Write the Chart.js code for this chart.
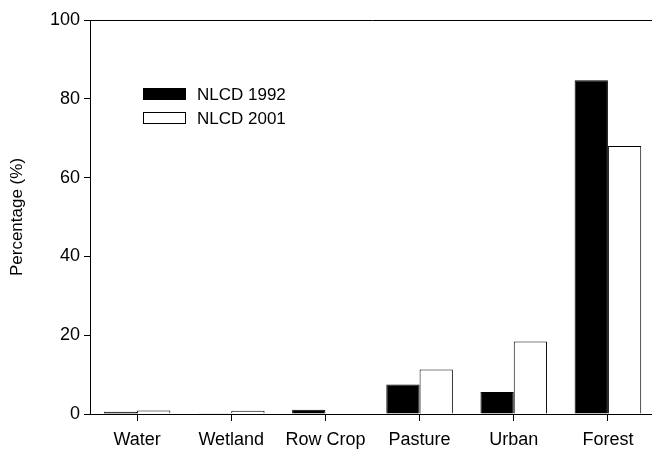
<!DOCTYPE html>
<html>
<head>
<meta charset="utf-8">
<script src="https://cdn.jsdelivr.net/npm/chart.js@4"></script>
<style>
  html, body { margin: 0; padding: 0; background: #fff; overflow: hidden; }
  #wrap { width: 660px; height: 450px; }
</style>
</head>
<body>
<div id="wrap"><canvas id="myChart" width="660" height="450"></canvas></div>
<script>
// categories and values
const categories = ["Water", "Wetland", "Row Crop", "Pasture", "Urban", "Forest"];
const nlcd1992 = [0.6, 0.2, 1.1, 7.5, 5.6, 84.7];
const nlcd2001 = [0.9, 0.8, 0, 11.3, 18.4, 68.0];
const yTicks = [0, 20, 40, 60, 80, 100];

const fontName = "'Liberation Sans', Arial, sans-serif";

// legend drawn inside the plot, like the original
const legendInside = {
  id: 'legendInside',
  afterDraw(chart) {
    const ctx = chart.ctx;
    ctx.save();
    chart.data.datasets.forEach((ds, i) => {
      const y = 94 + i * 24;
      ctx.fillStyle = ds.backgroundColor;
      ctx.strokeStyle = '#000';
      ctx.lineWidth = 1;
      ctx.fillRect(143.5, y - 5.5, 42, 11);
      ctx.strokeRect(143.5, y - 5.5, 42, 11);
      ctx.fillStyle = '#000';
      ctx.font = '17px ' + fontName;
      ctx.textBaseline = 'middle';
      ctx.fillText(ds.label, 197, y + 1);
    });
    ctx.restore();
  }
};

// top frame line
const topLine = {
  id: 'topLine',
  afterDraw(chart) {
    const a = chart.chartArea;
    const ctx = chart.ctx;
    ctx.save();
    ctx.strokeStyle = '#000';
    ctx.lineWidth = 1;
    ctx.beginPath();
    ctx.moveTo(a.left, Math.round(a.top) + 0.5);
    ctx.lineTo(a.right, Math.round(a.top) + 0.5);
    ctx.stroke();
    ctx.restore();
  }
};

new Chart(document.getElementById('myChart'), {
  type: 'bar',
  data: {
    labels: categories,
    datasets: [
      { label: 'NLCD 1992', data: nlcd1992, backgroundColor: '#000', borderColor: '#000', borderWidth: 1 },
      { label: 'NLCD 2001', data: nlcd2001, backgroundColor: '#fff', borderColor: '#000', borderWidth: 1 }
    ]
  },
  options: {
    responsive: false,
    animation: false,
    layout: { padding: { top: 20, right: 5, left: 0, bottom: 0 } },
    categoryPercentage: 0.707,
    barPercentage: 1,
    plugins: {
      legend: { display: false },
      tooltip: { enabled: false }
    },
    scales: {
      x: {
        afterFit: (s) => { s.height = 36; },
        grid: { offset: false, drawOnChartArea: false, drawTicks: true, tickLength: 7, color: '#000' },
        border: { display: true, color: '#000', width: 1 },
        ticks: { color: '#000', font: { family: fontName, size: 18 }, padding: 8, maxRotation: 0 }
      },
      y: {
        min: 0,
        max: 100,
        afterFit: (s) => { s.width = 90; },
        afterBuildTicks: (s) => { s.ticks = yTicks.map(v => ({ value: v })); },
        grid: { drawOnChartArea: false, drawTicks: true, tickLength: 6, color: '#000' },
        border: { display: true, color: '#000', width: 1 },
        ticks: { color: '#000', font: { family: fontName, size: 18 }, padding: 4 },
        title: {
          display: true,
          text: 'Percentage (%)',
          color: '#000',
          font: { family: fontName, size: 17 },
          padding: { top: 7, bottom: 0 }
        }
      }
    }
  },
  plugins: [legendInside, topLine]
});
</script>
</body>
</html>
